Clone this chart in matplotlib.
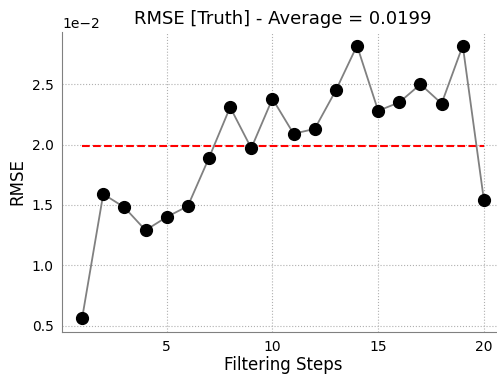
import numpy as np
import matplotlib
matplotlib.use("Agg")
import matplotlib.pyplot as plt

steps = np.arange(1, 21)
rmse = np.array([0.0056, 0.0159, 0.0148, 0.0129, 0.0140, 0.0149, 0.0189, 0.0231,
                 0.0197, 0.0238, 0.0209, 0.0213, 0.0245, 0.0282, 0.0228, 0.0235,
                 0.0250, 0.0234, 0.0282, 0.0154])
average = 0.0199

fig = plt.figure(figsize=(4.97, 3.76), dpi=100)
ax = fig.add_axes([62 / 497, 44 / 376, 442 / 497, 300 / 376])

ax.plot(steps, rmse, color="gray", lw=1.3, marker="o", ms=8.5,
        markerfacecolor="black", markeredgecolor="black", zorder=3)
ax.hlines(average, steps[0], steps[-1], colors="red", linestyles="--", lw=1.5, zorder=2)

ax.set_xlim(0.05, 20.95)
ax.set_ylim(0.00447, 0.02933)
ax.set_xticks([5, 10, 15, 20])
ax.set_yticks([0.005, 0.010, 0.015, 0.020, 0.025])
ax.ticklabel_format(axis="y", style="sci", scilimits=(-2, -2))

ax.grid(True, linestyle=":", color="#b0b0b0", lw=0.8)
ax.tick_params(length=0, labelsize=10, pad=6)
for side in ["top", "right"]:
    ax.spines[side].set_visible(False)
for side in ["left", "bottom"]:
    ax.spines[side].set_color("gray")

ax.set_title("RMSE [Truth] - Average = %.4f" % average, fontsize=13)
ax.set_xlabel("Filtering Steps", fontsize=12, labelpad=1)
ax.set_ylabel("RMSE", fontsize=12)

fig.savefig("out.png", dpi=100)
